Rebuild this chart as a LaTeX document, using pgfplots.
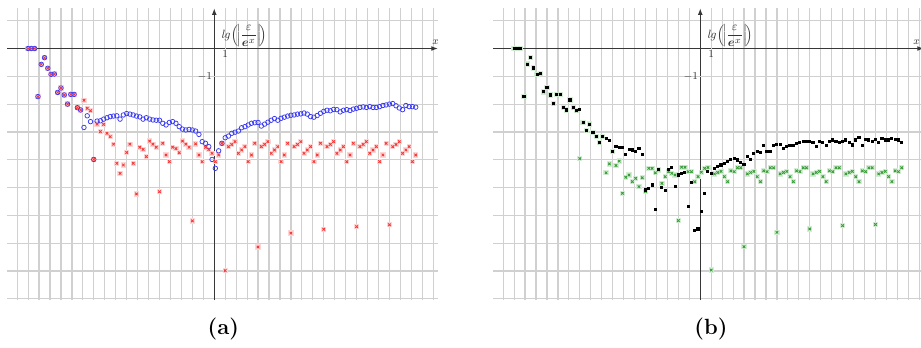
\documentclass[border=0pt]{standalone}
\usepackage{amsmath}
\usepackage{pgfplots}
\usepackage{pgfplotstable}
\pgfplotsset{compat=1.18}
\usetikzlibrary{arrows.meta}
\definecolor{gridc}{RGB}{208,208,208}
\definecolor{axc}{RGB}{55,55,55}
\definecolor{bluept}{RGB}{55,55,245}
\definecolor{redpt}{RGB}{245,55,55}
\definecolor{redhalo}{RGB}{253,214,214}
\definecolor{greenpt}{RGB}{55,155,55}
\definecolor{greenhalo}{RGB}{212,237,212}

\pgfplotstableread[row sep=\\]{x y\\
-17 0\\ -16.7 0\\ -16.4 0\\ -16.1 -1.73\\ -15.8 -0.57\\ -15.5 -0.33\\ -15.2 -0.71\\ -14.9 -0.93\\ -14.6 -0.92\\ -14.3 -1.58\\ -14.0 -1.42\\ -13.7 -1.67\\ -13.4 -2.0\\ -13.1 -1.65\\ -12.8 -1.65\\ -12.5 -2.13\\ -12.2 -2.21\\
-11.9 -2.84\\ -11.6 -2.42\\ -11.3 -2.63\\ -11.0 -3.99\\ -10.7 -2.61\\ -10.4 -2.6\\ -10.1 -2.54\\ -9.8 -2.49\\ -9.5 -2.45\\ -9.2 -2.43\\ -8.9 -2.42\\ -8.6 -2.54\\ -8.3 -2.39\\ -8.0 -2.34\\ -7.7 -2.36\\ -7.4 -2.39\\ -7.1 -2.43\\ -6.8 -2.46\\ -6.5 -2.54\\ -6.2 -2.49\\ -5.9 -2.54\\ -5.6 -2.57\\ -5.3 -2.58\\ -5.0 -2.58\\ -4.7 -2.69\\ -4.4 -2.75\\ -4.1 -2.66\\ -3.8 -2.63\\ -3.5 -2.69\\ -3.2 -2.81\\ -2.9 -2.9\\ -2.6 -2.93\\ -2.3 -2.91\\ -2.0 -2.93\\ -1.7 -2.97\\ -1.4 -3.09\\ -1.1 -3.35\\ -0.8 -3.41\\ -0.5 -3.53\\ -0.2 -3.99\\ 0.1 -4.31\\ 0.4 -3.68\\ 0.7 -3.41\\
1.0 -3.21\\ 1.3 -3.15\\ 1.6 -3.05\\ 1.9 -3.01\\ 2.2 -2.97\\ 2.5 -2.85\\ 2.8 -2.81\\ 3.1 -2.75\\ 3.4 -2.69\\ 3.7 -2.67\\ 4.0 -2.66\\ 4.3 -2.79\\ 4.6 -2.72\\ 4.9 -2.65\\ 5.2 -2.58\\ 5.5 -2.52\\ 5.8 -2.58\\ 6.1 -2.51\\ 6.4 -2.47\\ 6.7 -2.43\\ 7.0 -2.40\\ 7.3 -2.39\\ 7.6 -2.36\\ 7.9 -2.35\\ 8.2 -2.32\\ 8.5 -2.36\\ 8.8 -2.45\\ 9.1 -2.47\\ 9.4 -2.41\\ 9.7 -2.33\\ 10.0 -2.26\\ 10.3 -2.22\\ 10.6 -2.24\\ 10.9 -2.19\\ 11.2 -2.20\\ 11.5 -2.28\\ 11.8 -2.22\\ 12.1 -2.20\\ 12.4 -2.23\\ 12.7 -2.18\\ 13.0 -2.15\\ 13.3 -2.12\\ 13.6 -2.10\\ 13.9 -2.12\\ 14.2 -2.09\\ 14.5 -2.12\\ 14.8 -2.12\\ 15.1 -2.09\\ 15.4 -2.05\\ 15.7 -2.03\\ 16.0 -2.00\\ 16.3 -1.98\\ 16.6 -2.06\\ 16.9 -2.14\\ 17.2 -2.20\\ 17.5 -2.05\\ 17.8 -2.09\\ 18.1 -2.09\\ 18.4 -2.11\\
}\blueA

\pgfplotstableread[row sep=\\]{x y\\
-17 0\\ -16.7 0\\ -16.4 0\\ -16.1 -1.73\\ -15.8 -0.57\\ -15.5 -0.33\\ -15.2 -0.71\\ -14.9 -0.93\\ -14.6 -0.92\\ -14.3 -1.58\\ -14.0 -1.42\\ -13.7 -1.67\\ -13.4 -2.0\\ -13.1 -1.65\\ -12.8 -1.65\\ -12.5 -2.13\\ -12.2 -2.21\\
-11.9 -1.86\\ -11.6 -2.15\\ -11.3 -2.24\\ -11.0 -3.99\\ -10.7 -2.72\\ -10.4 -2.99\\ -10.1 -2.73\\ -9.8 -3.05\\ -9.5 -3.17\\ -9.2 -3.44\\ -8.9 -4.13\\ -8.6 -4.49\\ -8.3 -4.19\\ -8.0 -3.74\\ -7.7 -3.44\\ -7.4 -4.13\\ -7.1 -5.23\\ -6.8 -3.55\\ -6.5 -3.63\\ -6.2 -3.89\\ -5.9 -3.33\\ -5.6 -3.44\\ -5.3 -3.55\\ -5.0 -5.15\\ -4.7 -3.41\\ -4.4 -3.83\\ -4.1 -4.07\\ -3.8 -3.55\\ -3.5 -3.60\\ -3.2 -3.75\\ -2.9 -3.33\\ -2.6 -3.44\\ -2.3 -3.55\\ -2.0 -6.20\\ -1.7 -3.43\\ -1.4 -3.83\\ -1.1 -4.07\\ -0.8 -3.55\\ -0.5 -3.63\\ -0.2 -3.77\\ 0.1 -4.07\\ 0.4 -3.83\\ 0.7 -3.41\\
1.0 -7.99\\ 1.3 -3.53\\ 1.6 -3.45\\ 1.9 -3.35\\ 2.2 -3.77\\ 2.5 -3.65\\ 2.8 -3.53\\ 3.1 -4.07\\ 3.4 -3.83\\ 3.7 -3.41\\
4.0 -7.14\\ 4.3 -3.53\\ 4.6 -3.45\\ 4.9 -3.35\\ 5.2 -3.77\\ 5.5 -3.65\\ 5.8 -3.53\\ 6.1 -4.07\\ 6.4 -3.83\\ 6.7 -3.41\\
7.0 -6.64\\ 7.3 -3.53\\ 7.6 -3.45\\ 7.9 -3.35\\ 8.2 -3.77\\ 8.5 -3.65\\ 8.8 -3.53\\ 9.1 -4.07\\ 9.4 -3.83\\ 9.7 -3.41\\
10.0 -6.50\\ 10.3 -3.53\\ 10.6 -3.45\\ 10.9 -3.35\\ 11.2 -3.77\\ 11.5 -3.65\\ 11.8 -3.53\\ 12.1 -4.07\\ 12.4 -3.83\\ 12.7 -3.41\\
13.0 -6.41\\ 13.3 -3.53\\ 13.6 -3.45\\ 13.9 -3.35\\ 14.2 -3.77\\ 14.5 -3.65\\ 14.8 -3.53\\ 15.1 -4.07\\ 15.4 -3.83\\ 15.7 -3.41\\
16.0 -6.34\\ 16.3 -3.53\\ 16.6 -3.45\\ 16.9 -3.35\\ 17.2 -3.77\\ 17.5 -3.65\\ 17.8 -3.53\\ 18.1 -4.07\\ 18.4 -3.83\\
}\redA

\pgfplotstableread[row sep=\\]{x y\\
-17 0\\ -16.7 0\\ -16.4 0\\ -16.1 -1.73\\ -15.8 -0.56\\ -15.5 -0.33\\ -15.2 -0.70\\ -14.9 -0.93\\ -14.6 -0.91\\ -14.3 -1.56\\ -14.0 -1.41\\ -13.7 -1.67\\ -13.4 -1.99\\ -13.1 -1.65\\ -12.8 -1.65\\ -12.5 -2.13\\ -12.2 -2.21\\
-11.9 -1.85\\ -11.6 -2.13\\ -11.3 -2.24\\ -11.0 -3.96\\ -10.7 -2.67\\ -10.4 -2.96\\ -10.1 -2.72\\ -9.8 -3.02\\ -9.5 -3.17\\ -9.2 -3.39\\ -8.9 -3.17\\ -8.6 -4.47\\ -8.3 -4.15\\ -8.0 -3.71\\ -7.7 -4.21\\ -7.4 -4.05\\ -7.1 -5.21\\ -6.8 -4.63\\ -6.5 -4.55\\ -6.2 -4.79\\ -5.9 -4.67\\ -5.6 -4.97\\ -5.3 -4.65\\ -5.0 -5.14\\ -4.7 -4.31\\ -4.4 -4.31\\ -4.1 -4.47\\ -3.8 -4.37\\ -3.5 -4.85\\ -3.2 -4.61\\ -2.9 -4.43\\ -2.6 -4.49\\ -2.3 -4.55\\ -2.0 -6.19\\ -1.7 -4.27\\ -1.4 -4.27\\ -1.1 -4.43\\ -0.8 -4.43\\ -0.5 -4.79\\ -0.2 -4.61\\ 0.1 -4.45\\ 0.4 -4.31\\ 0.7 -4.28\\
1.0 -7.97\\ 1.3 -4.51\\ 1.6 -4.46\\ 1.9 -4.42\\ 2.2 -4.61\\ 2.5 -4.79\\ 2.8 -4.40\\ 3.1 -4.43\\ 3.4 -4.29\\ 3.7 -4.29\\
4.0 -7.13\\ 4.3 -4.51\\ 4.6 -4.46\\ 4.9 -4.42\\ 5.2 -4.61\\ 5.5 -4.79\\ 5.8 -4.40\\ 6.1 -4.43\\ 6.4 -4.29\\ 6.7 -4.29\\
7.0 -6.61\\ 7.3 -4.51\\ 7.6 -4.46\\ 7.9 -4.42\\ 8.2 -4.61\\ 8.5 -4.79\\ 8.8 -4.40\\ 9.1 -4.43\\ 9.4 -4.29\\ 9.7 -4.29\\
10.0 -6.49\\ 10.3 -4.51\\ 10.6 -4.46\\ 10.9 -4.42\\ 11.2 -4.61\\ 11.5 -4.79\\ 11.8 -4.40\\ 12.1 -4.43\\ 12.4 -4.29\\ 12.7 -4.29\\
13.0 -6.37\\ 13.3 -4.51\\ 13.6 -4.46\\ 13.9 -4.42\\ 14.2 -4.61\\ 14.5 -4.79\\ 14.8 -4.40\\ 15.1 -4.43\\ 15.4 -4.29\\ 15.7 -4.29\\
16.0 -6.33\\ 16.3 -4.51\\ 16.6 -4.46\\ 16.9 -4.42\\ 17.2 -4.61\\ 17.5 -4.79\\ 17.8 -4.40\\ 18.1 -4.43\\ 18.4 -4.29\\
}\greenB

\pgfplotstableread[row sep=\\]{x y\\
-17 0\\ -16.7 0\\ -16.4 0\\ -16.1 -1.73\\ -15.8 -0.56\\ -15.5 -0.33\\ -15.2 -0.70\\ -14.9 -0.93\\ -14.6 -0.91\\ -14.3 -1.56\\ -14.0 -1.41\\ -13.7 -1.67\\ -13.4 -1.99\\ -13.1 -1.65\\ -12.8 -1.65\\ -12.5 -2.13\\ -12.2 -2.21\\
-11.9 -1.85\\ -11.6 -2.13\\ -11.3 -2.24\\ -11.0 -2.20\\ -10.7 -2.67\\ -10.4 -2.96\\ -10.1 -2.72\\ -9.8 -3.02\\ -9.5 -3.17\\ -9.2 -3.39\\ -8.9 -3.17\\ -8.6 -3.23\\ -8.3 -3.31\\ -8.0 -3.71\\ -7.7 -3.53\\ -7.4 -3.57\\ -7.1 -3.57\\ -6.8 -3.80\\ -6.5 -3.62\\ -6.2 -3.65\\ -5.9 -3.69\\ -5.6 -3.59\\ -5.3 -3.80\\ -5.0 -5.09\\ -4.7 -5.05\\ -4.4 -4.91\\ -4.1 -5.79\\ -3.8 -4.35\\ -3.5 -5.00\\ -3.2 -5.12\\ -2.9 -4.35\\ -2.6 -4.27\\ -2.3 -4.95\\ -2.0 -4.55\\ -1.7 -4.51\\ -1.4 -4.45\\ -1.1 -5.67\\ -0.8 -4.83\\ -0.5 -6.55\\ -0.2 -6.49\\ 0.1 -5.85\\ 0.4 -5.23\\ 0.7 -4.43\\
1.0 -4.51\\ 1.3 -4.31\\ 1.6 -4.25\\ 1.9 -4.19\\ 2.2 -4.13\\ 2.5 -4.05\\ 2.8 -3.99\\ 3.1 -3.97\\ 3.4 -4.01\\ 3.7 -4.11\\ 4.0 -4.17\\ 4.3 -3.89\\ 4.6 -3.99\\ 4.9 -3.77\\ 5.2 -3.69\\ 5.5 -3.74\\ 5.8 -3.50\\ 6.1 -3.71\\ 6.4 -3.71\\ 6.7 -3.50\\ 7.0 -3.45\\ 7.3 -3.44\\ 7.6 -3.59\\ 7.9 -3.53\\ 8.2 -3.50\\ 8.5 -3.50\\ 8.8 -3.41\\ 9.1 -3.37\\ 9.4 -3.35\\ 9.7 -3.33\\ 10.0 -3.33\\ 10.3 -3.37\\ 10.6 -3.51\\ 10.9 -3.33\\ 11.2 -3.37\\ 11.5 -3.50\\ 11.8 -3.33\\ 12.1 -3.29\\ 12.4 -3.35\\ 12.7 -3.37\\ 13.0 -3.35\\ 13.3 -3.29\\ 13.6 -3.37\\ 13.9 -3.47\\ 14.2 -3.29\\ 14.5 -3.21\\ 14.8 -3.50\\ 15.1 -3.27\\ 15.4 -3.29\\ 15.7 -3.33\\ 16.0 -3.27\\ 16.3 -3.37\\ 16.6 -3.25\\ 16.9 -3.29\\ 17.2 -3.29\\ 17.5 -3.23\\ 17.8 -3.27\\ 18.1 -3.29\\ 18.4 -3.39\\
}\blackB

\pgfplotsset{
  ggb/.style={
    axis lines=middle,
    x=8.2125pt, y=20.85pt,
    xmin=-18.9, xmax=20.43, ymin=-9.05, ymax=1.45,
    xtick={-18,...,20}, ytick={-9,...,1},
    xticklabels={}, yticklabels={},
    extra x ticks={1}, extra x tick labels={$1$},
    extra y ticks={-1}, extra y tick labels={$-1$},
    extra tick style={grid=major, major tick length=0pt},
    major tick length=0pt,
    grid=major,
    major grid style={draw=gridc, line width=0.9pt},
    axis line style={draw=axc, line width=0.8pt, -{Latex[length=5pt,width=3.6pt]}},
    ticklabel style={font=\fontsize{8.5}{10}\selectfont, text=black!80, inner sep=1.5pt},
    clip=false,
    anchor=south west,
  },
  halo/.style={only marks, mark=square*, mark size=1.6pt, mark options={draw=#1, fill=#1, line width=0pt}},
  cross/.style={only marks, mark=x, mark size=1.35pt, mark options={draw=#1, line width=0.65pt}},
}
\newcommand{\ylab}{$\mathit{lg}\!\left(\!\left|\displaystyle\frac{\varepsilon}{\boldsymbol{e}^{x}}\right|\!\right)$}

\begin{document}
\begin{tikzpicture}
\begin{axis}[ggb, at={(5.475pt,35.175pt)}]
  \addplot[halo=redhalo] table {\redA};
  \addplot[only marks, mark=o, mark size=1.7pt, mark options={draw=bluept, line width=0.55pt, fill=none}] table {\blueA};
  \addplot[cross=redpt] table {\redA};
  \node[anchor=south west, inner sep=0pt, font=\fontsize{9.5}{11}\selectfont, text=black!80] at (axis cs:0.6,0.05) {\ylab};
  \node[font=\fontsize{8.5}{10}\selectfont, text=black!80] at (axis cs:20.2,0.23) {$x$};
\end{axis}
\begin{axis}[ggb, at={(369.97pt,35.175pt)}]
  \addplot[halo=greenhalo] table {\greenB};
  \addplot[cross=greenpt] table {\greenB};
  \addplot[only marks, mark=square*, mark size=0.8pt, mark options={draw=black, fill=black, line width=0pt}] table {\blackB};
  \node[anchor=south west, inner sep=0pt, font=\fontsize{9.5}{11}\selectfont, text=black!80] at (axis cs:0.6,0.05) {\ylab};
  \node[font=\fontsize{8.5}{10}\selectfont, text=black!80] at (axis cs:19.75,0.23) {$x$};
\end{axis}
\node at (167.5pt,13.3pt) {\fontsize{16.5}{18}\selectfont\textbf{(a)}};
\node at (533.25pt,13.3pt) {\fontsize{16.5}{18}\selectfont\textbf{(b)}};
\pgfresetboundingbox
\path[use as bounding box] (0,0) rectangle (690.75pt,260.25pt);
\end{tikzpicture}
\end{document}
